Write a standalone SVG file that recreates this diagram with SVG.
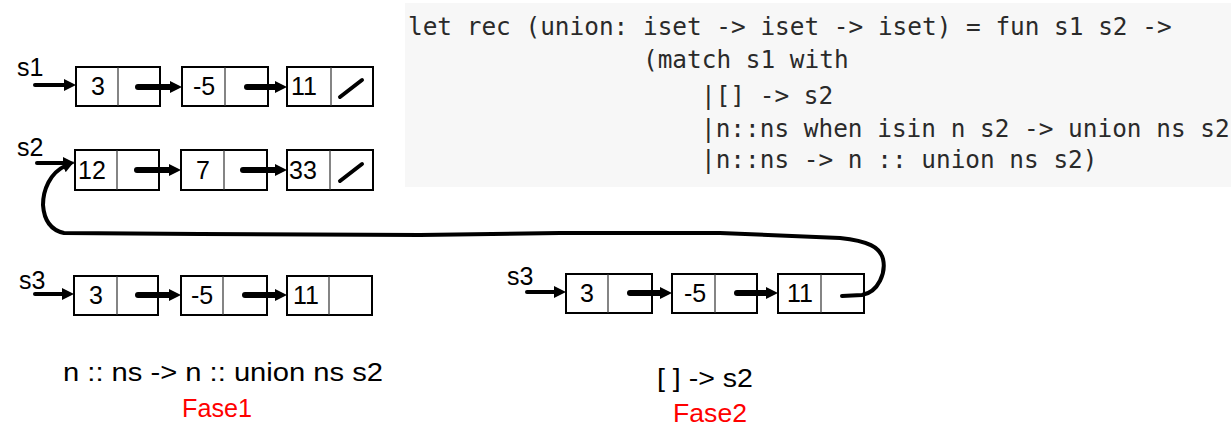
<svg xmlns="http://www.w3.org/2000/svg" width="1231" height="425" viewBox="0 0 1231 425">
<style>
.box{fill:#fff;stroke:#000;stroke-width:2}
.div{stroke:#333;stroke-width:1.2}
.num{font-family:"Liberation Sans",Arial,sans-serif;font-size:25px;fill:#000}
.lbl{font-family:"Liberation Sans",Arial,sans-serif;font-size:25px;fill:#000}
.big{font-family:"Liberation Sans",Arial,sans-serif;font-size:25px;fill:#000}
.red{font-family:"Liberation Sans",Arial,sans-serif;font-size:25px;fill:#ff0000}
.code{font-family:"DejaVu Sans Mono","Liberation Mono",monospace;font-size:24.4px;fill:#2a2a2a}
.thin{stroke:#000;stroke-width:4;stroke-linecap:round;fill:none;marker-end:url(#ah)}
.thick{stroke:#000;stroke-width:6;stroke-linecap:round;fill:none;marker-end:url(#ah)}
.slash{stroke:#000;stroke-width:4;stroke-linecap:round}
.loop{stroke:#000;stroke-width:4;fill:none;stroke-linecap:round;stroke-linejoin:round;marker-end:url(#ah2)}
</style>
<defs>
<marker id="ah" markerUnits="userSpaceOnUse" markerWidth="14" markerHeight="14" refX="2" refY="6" orient="auto">
<path d="M0,0 L12,6 L0,12 z" fill="#000"/>
</marker>
<marker id="ah2" markerUnits="userSpaceOnUse" markerWidth="14" markerHeight="14" refX="2" refY="6" orient="auto">
<path d="M0,0 L12,6 L0,12 z" fill="#000"/>
</marker>
</defs>
<rect width="1231" height="425" fill="#fff"/>

<g id="code">
<rect x="405" y="3" width="826" height="184" fill="#f7f7f7"/>
<text class="code" x="408" y="35">let rec (union: iset -&gt; iset -&gt; iset) = fun s1 s2 -&gt;</text>
<text class="code" x="643" y="68">(match s1 with</text>
<text class="code" x="701" y="104">|[] -&gt; s2</text>
<text class="code" x="701" y="137">|n::ns when isin n s2 -&gt; union ns s2</text>
<text class="code" x="701" y="168">|n::ns -&gt; n :: union ns s2)</text>
</g>

<g id="labels">
<text class="lbl" x="17" y="76">s1</text>
<text class="lbl" x="17" y="156">s2</text>
<text class="lbl" x="19" y="289">s3</text>
<text class="lbl" x="507" y="285">s3</text>
</g>

<g id="s1-n1"><rect class="box" x="76" y="67" width="84" height="39"/><line class="div" x1="118" y1="67" x2="118" y2="106"/><text class="num" x="98" y="95" text-anchor="middle">3</text></g>
<g id="s1-n2"><rect class="box" x="182" y="67" width="86" height="39"/><line class="div" x1="225" y1="67" x2="225" y2="106"/><text class="num" x="204" y="95" text-anchor="middle">-5</text></g>
<g id="s1-n3"><rect class="box" x="287" y="67" width="86" height="39"/><line class="div" x1="331" y1="67" x2="331" y2="106"/><text class="num" x="291" y="95">11</text></g>

<g id="s2-n1"><rect class="box" x="75" y="150" width="84" height="40"/><line class="div" x1="117" y1="150" x2="117" y2="190"/><text class="num" x="78" y="179">12</text></g>
<g id="s2-n2"><rect class="box" x="181" y="150" width="86" height="40"/><line class="div" x1="224" y1="150" x2="224" y2="190"/><text class="num" x="203" y="179" text-anchor="middle">7</text></g>
<g id="s2-n3"><rect class="box" x="287" y="150" width="86" height="40"/><line class="div" x1="330" y1="150" x2="330" y2="190"/><text class="num" x="289" y="179">33</text></g>

<g id="s3a-n1"><rect class="box" x="74" y="276" width="84" height="39"/><line class="div" x1="117" y1="276" x2="117" y2="315"/><text class="num" x="96" y="304" text-anchor="middle">3</text></g>
<g id="s3a-n2"><rect class="box" x="181" y="276" width="86" height="39"/><line class="div" x1="223" y1="276" x2="223" y2="315"/><text class="num" x="202" y="304" text-anchor="middle">-5</text></g>
<g id="s3a-n3"><rect class="box" x="287" y="276" width="85" height="39"/><line class="div" x1="329" y1="276" x2="329" y2="315"/><text class="num" x="293" y="304">11</text></g>

<g id="s3b-n1"><rect class="box" x="566" y="274" width="86" height="39"/><line class="div" x1="608" y1="274" x2="608" y2="313"/><text class="num" x="587" y="302" text-anchor="middle">3</text></g>
<g id="s3b-n2"><rect class="box" x="672" y="274" width="85" height="39"/><line class="div" x1="715" y1="274" x2="715" y2="313"/><text class="num" x="695" y="302" text-anchor="middle">-5</text></g>
<g id="s3b-n3"><rect class="box" x="778" y="274" width="86" height="39"/><line class="div" x1="821" y1="274" x2="821" y2="313"/><text class="num" x="787" y="302">11</text></g>

<g id="connectors">
<line class="thin" x1="35" y1="85" x2="66" y2="85"/>
<line class="thick" x1="138" y1="87" x2="172" y2="87"/>
<line class="thick" x1="247" y1="87" x2="277" y2="87"/>
<line class="slash" x1="340" y1="97" x2="362" y2="80"/>

<line class="thin" x1="37" y1="163" x2="65" y2="163"/>
<line class="thick" x1="137" y1="170" x2="171" y2="170"/>
<line class="thick" x1="243" y1="170" x2="277" y2="170"/>
<line class="slash" x1="340" y1="181" x2="362" y2="164"/>

<line class="thin" x1="35" y1="294" x2="64" y2="294"/>
<line class="thick" x1="138" y1="295" x2="171" y2="295"/>
<line class="thick" x1="245" y1="295" x2="277" y2="295"/>

<line class="thin" x1="527" y1="292" x2="556" y2="292"/>
<line class="thick" x1="630" y1="293" x2="662" y2="293"/>
<line class="thick" x1="737" y1="293" x2="768" y2="293"/>

<path class="loop" d="M842,296 L862,295 C879,292 886,272 883,259 C880,247 868,241 840,238 L720,233 L560,233 L420,235 L200,234 L64,233 C50,230 44,219 43,205 C43,190 50,173 65,166"/>
</g>

<g id="captions">
<text class="big" x="63" y="381" textLength="320" lengthAdjust="spacingAndGlyphs">n :: ns -&gt; n :: union ns s2</text>
<text class="red" x="182" y="417" textLength="70" lengthAdjust="spacingAndGlyphs">Fase1</text>
<text class="big" x="657" y="387" textLength="96" lengthAdjust="spacingAndGlyphs">[ ] -&gt; s2</text>
<text class="red" x="673" y="422" textLength="74" lengthAdjust="spacingAndGlyphs">Fase2</text>
</g>
</svg>
